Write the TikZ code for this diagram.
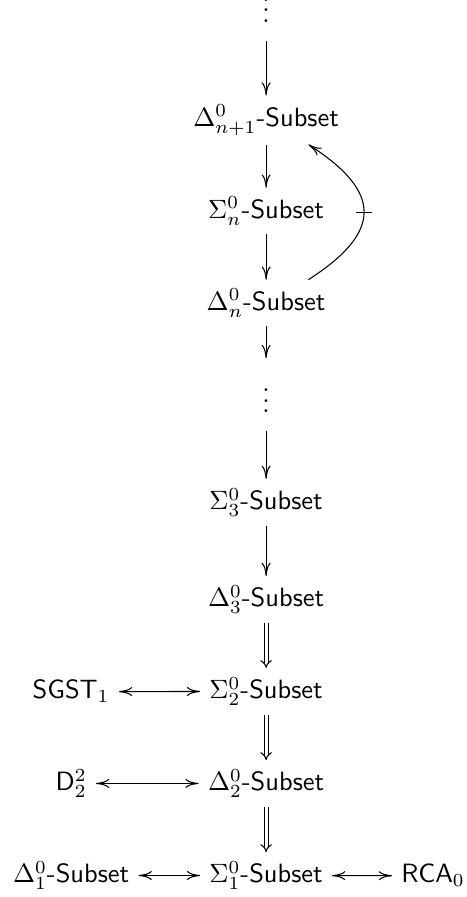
\documentclass[tikz,border=0pt]{standalone}
\usepackage{amsmath}
\usepackage{amsfonts}
\usetikzlibrary{matrix, arrows.meta}

\begin{document}
\begin{tikzpicture}[>={To[length=5pt, width=3.4pt]}, imp/.style = {double, double distance = 1.1pt, -{Implies}}, eqv/.style = {<->}, fromdots/.style = {shorten <= 3.5pt}]
\begin{scope}[overlay]
\matrix (m) [nodes = {anchor = base}, column sep = {73.7pt,between origins}, row sep = {34.8pt,between origins}]{
& \node(vt){$\vdots$}; \\[4.5pt]
& \node(dnp){$\Delta^{0}_{n+1}$\textsf{-Subset}}; \\
& \node(sn){$\Sigma^{0}_{n}$\textsf{-Subset}}; \\
& \node(dn){$\Delta^{0}_{n}$\textsf{-Subset}}; \\[3.8pt]
& \node(vm){$\vdots$}; \\[1.9pt]
& \node(s3){$\Sigma^{0}_{3}$\textsf{-Subset}}; \\[1.9pt]
& \node(d3){$\Delta^{0}_{3}$\textsf{-Subset}}; \\
\node(sgst){$\mathsf{SGST}_{1}$}; & \node(s2){$\Sigma^{0}_{2}$\textsf{-Subset}}; \\
\node(dd){$\mathsf{D}^{2}_{2}$}; & \node(d2){$\Delta^{0}_{2}$\textsf{-Subset}}; \\
\node(d1){$\Delta^{0}_{1}$\textsf{-Subset}}; & \node(s1){$\Sigma^{0}_{1}$\textsf{-Subset}}; \\
};
\node[anchor = base] (rca) at ([xshift=63.1pt]s1.base) {$\mathsf{RCA}_{0}$};
\end{scope}
\useasboundingbox ([xshift=-100.6pt,yshift=-5.3pt]s1.base) rectangle ([xshift=75.6pt,yshift=333.8pt]s1.base);
\draw[->, fromdots] (vt) -- (dnp);
\draw[->] (dnp) -- (sn);
\draw[->] (sn) -- (dn);
\draw[->, shorten >= 2pt] (dn) -- (vm);
\draw[->, fromdots] (vm) -- (s3);
\draw[->] (s3) -- (d3);
\draw[imp] (d3) -- (s2);
\draw[imp] (s2) -- (d2);
\draw[imp] (d2) -- (s1);
\draw[eqv] (sgst) -- (s2);
\draw[eqv] (dd) -- (d2);
\draw[eqv] (d1) -- (s1);
\draw[eqv] (s1) -- (rca);
\draw[->] ([xshift=16pt]dn.north) .. controls +(28pt,18pt) and +(28pt,-18pt) .. ([xshift=16pt]dnp.south) node[pos=.5, sloped, inner sep=0]{\rule{0.4pt}{6.4pt}};
\end{tikzpicture}
\end{document}
